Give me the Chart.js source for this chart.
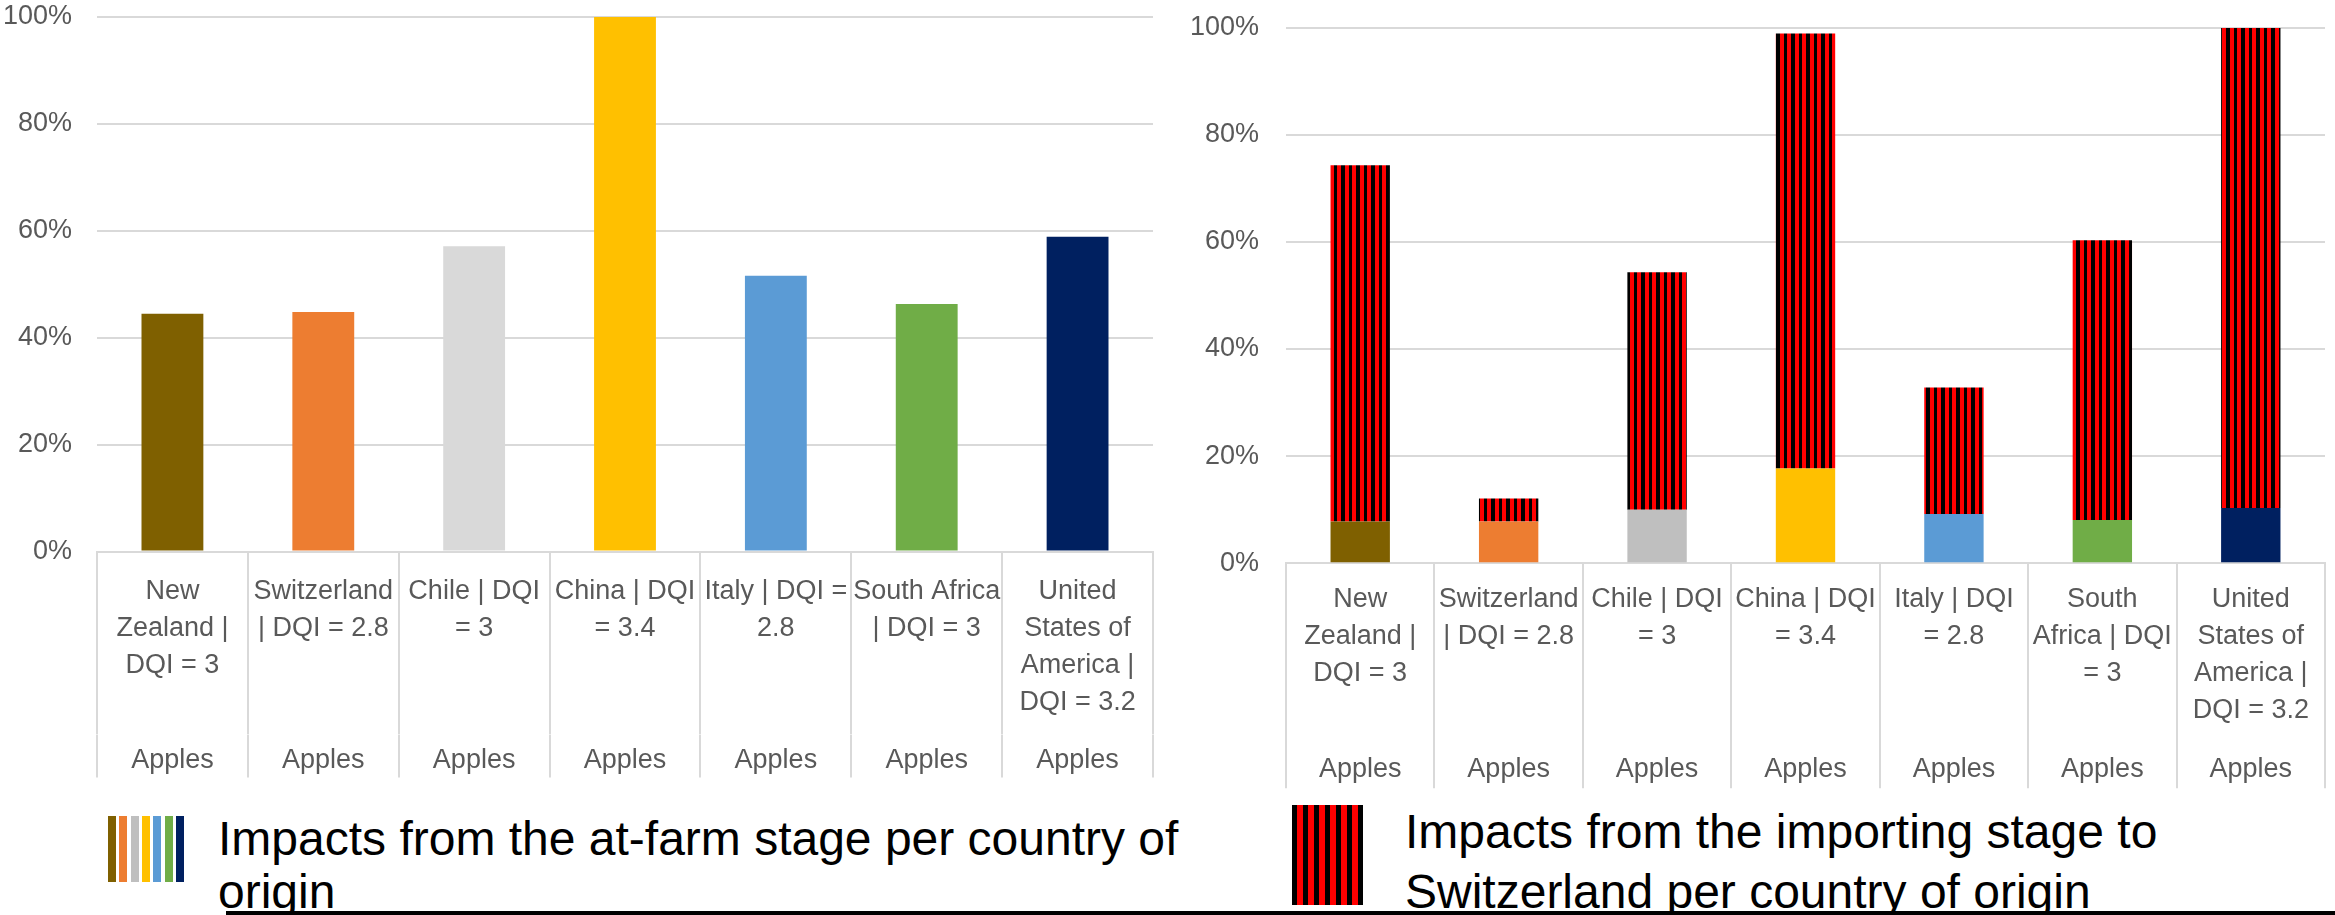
<!DOCTYPE html>
<html>
<head>
<meta charset="utf-8">
<title>Apples impacts per country of origin</title>
<script src="https://cdn.jsdelivr.net/npm/chart.js@4.4.1/dist/chart.umd.min.js"></script>
<style>
  html, body { margin: 0; padding: 0; background: #fff; width: 2335px; height: 915px; overflow: hidden; position: relative; }
  #farmChart { position: absolute; left: 0; top: 0; }
  #importChart { position: absolute; left: 1180px; top: 0; }
  .legend-text {
    position: absolute;
    font-family: "Liberation Sans", Arial, sans-serif;
    font-size: 48px;
    color: #000;
    white-space: nowrap;
  }
  #farmSwatch { position: absolute; left: 108px; top: 816px; width: 78px; height: 66px; }
  #farmSwatch div { position: absolute; top: 0; width: 8px; height: 66px; }
  #importSwatch {
    position: absolute; left: 1292px; top: 805px; width: 71px; height: 100px;
    background: repeating-linear-gradient(90deg, #000 0 5.5px, #f00 5.5px 11px);
  }
  #bottomRule { position: absolute; left: 226px; top: 911px; width: 2109px; height: 4px; background: #000; }
</style>
</head>
<body>
<canvas id="farmChart" width="1165" height="790"></canvas>
<canvas id="importChart" width="1155" height="800"></canvas>

<div id="farmSwatch"></div>
<div class="legend-text" style="left:218px; top:812px; line-height:53px;">Impacts from the at-farm stage per country of<br>origin</div>

<div id="importSwatch"></div>
<div class="legend-text" style="left:1405px; top:802px; line-height:60px;">Impacts from the importing stage to<br>Switzerland per country of origin</div>

<div id="bottomRule"></div>

<script>
// category labels, wrapped the way the original axis wraps them
const farmLabels = [
  ['New', 'Zealand |', 'DQI = 3'],
  ['Switzerland', '| DQI = 2.8'],
  ['Chile | DQI', '= 3'],
  ['China | DQI', '= 3.4'],
  ['Italy | DQI =', '2.8'],
  ['South Africa', '| DQI = 3'],
  ['United', 'States of', 'America |', 'DQI = 3.2']
];
const importLabels = [
  ['New', 'Zealand |', 'DQI = 3'],
  ['Switzerland', '| DQI = 2.8'],
  ['Chile | DQI', '= 3'],
  ['China | DQI', '= 3.4'],
  ['Italy | DQI', '= 2.8'],
  ['South', 'Africa | DQI', '= 3'],
  ['United', 'States of', 'America |', 'DQI = 3.2']
];
const productLabels = ['Apples', 'Apples', 'Apples', 'Apples', 'Apples', 'Apples', 'Apples'];

// values in %
const farmShare = [44.5, 44.8, 57.1, 100, 51.6, 46.3, 58.9];
const farmStage = [7.8, 7.8, 10.0, 17.7, 9.2, 8.1, 10.3];
const importStage = [66.5, 4.3, 44.3, 81.2, 23.6, 52.2, 89.6];

const countryColors = ['#7F6000', '#ED7D31', '#D9D9D9', '#FFC000', '#5B9BD5', '#70AD47', '#002060'];
const countryColorsRight = ['#7F6000', '#ED7D31', '#BFBFBF', '#FFC000', '#5B9BD5', '#70AD47', '#002060'];

const TICK = '#595959';
const GRID = '#D9D9D9';
const FONT_SIZE = 27;

Chart.defaults.animation = false;
Chart.defaults.font.family = '"Liberation Sans", Arial, sans-serif';
Chart.defaults.plugins.legend.display = false;
Chart.defaults.plugins.tooltip.enabled = false;

// red / black vertical stripes for the importing stage
function stripePattern() {
  const c = document.createElement('canvas');
  c.width = 15;
  c.height = 10;
  const g = c.getContext('2d');
  g.fillStyle = '#000';
  g.fillRect(0, 0, 15, 10);
  g.fillStyle = '#FF0000';
  g.fillRect(0, 0, 4, 10);
  g.fillRect(7, 0, 4, 10);
  return g.createPattern(c, 'repeat');
}

// two-level category axis: countries, then product, with separators
function buildScales(o) {
  return {
    y: {
      min: 0,
      max: 100,
      stacked: o.stacked,
      ticks: {
        stepSize: 20,
        padding: 0,
        color: TICK,
        font: { size: FONT_SIZE, lineHeight: 1 },
        callback: v => v + '%'
      },
      // invisible tick marks make the gap between labels and plot
      grid: { color: GRID, lineWidth: 2, drawTicks: true, tickLength: o.yGap, tickColor: 'rgba(0,0,0,0)' },
      border: { display: false },
      afterFit: s => { s.width = o.yWidth; }
    },
    x: {
      stacked: o.stacked,
      offset: true,
      weight: 0,
      ticks: {
        autoSkip: false,
        maxRotation: 0,
        minRotation: 0,
        color: TICK,
        font: { size: FONT_SIZE, lineHeight: 37 / FONT_SIZE },
        padding: o.xPad - o.xHeight
      },
      grid: { offset: true, drawOnChartArea: false, drawTicks: true, tickLength: o.xHeight, color: GRID, lineWidth: 2 },
      border: { display: true, color: GRID, width: 2 },
      afterFit: s => { s.height = o.xHeight; }
    },
    x2: {
      type: 'category',
      labels: productLabels,
      position: 'bottom',
      offset: true,
      weight: 1,
      ticks: {
        autoSkip: false,
        maxRotation: 0,
        minRotation: 0,
        color: TICK,
        font: { size: FONT_SIZE, lineHeight: 37 / FONT_SIZE },
        padding: o.x2Pad - o.x2Height
      },
      grid: { offset: true, drawOnChartArea: false, drawTicks: true, tickLength: o.x2Height, color: GRID, lineWidth: 2 },
      border: { display: false },
      afterFit: s => { s.height = o.x2Height; }
    }
  };
}

new Chart(document.getElementById('farmChart'), {
  type: 'bar',
  data: {
    labels: farmLabels,
    datasets: [{
      label: 'Impacts from the at-farm stage per country of origin',
      data: farmShare,
      backgroundColor: countryColors,
      borderWidth: 0,
      barPercentage: 0.41,
      categoryPercentage: 1
    }]
  },
  options: {
    responsive: false,
    layout: { padding: { top: 17, right: 12, bottom: 12.5, left: 0 } },
    scales: buildScales({ stacked: false, yWidth: 97, yGap: 25, xHeight: 183, xPad: 21.5, x2Height: 43, x2Pad: 8 })
  }
});

new Chart(document.getElementById('importChart'), {
  type: 'bar',
  data: {
    labels: importLabels,
    datasets: [{
      label: 'At-farm stage',
      data: farmStage,
      backgroundColor: countryColorsRight,
      borderWidth: 0,
      barPercentage: 0.40,
      categoryPercentage: 1
    }, {
      label: 'Impacts from the importing stage to Switzerland per country of origin',
      data: importStage,
      backgroundColor: stripePattern(),
      borderWidth: 0,
      barPercentage: 0.40,
      categoryPercentage: 1
    }]
  },
  options: {
    responsive: false,
    layout: { padding: { top: 27.5, right: 10, bottom: 11.7, left: 0 } },
    scales: buildScales({ stacked: true, yWidth: 106, yGap: 27, xHeight: 180, xPad: 18, x2Height: 45, x2Pad: 8 })
  }
});

// legend swatch for the at-farm stage: one stripe per country colour
const swatch = document.getElementById('farmSwatch');
countryColorsRight.forEach((c, i) => {
  const d = document.createElement('div');
  d.style.left = (i * 11.3) + 'px';
  d.style.background = c;
  swatch.appendChild(d);
});
</script>
</body>
</html>
